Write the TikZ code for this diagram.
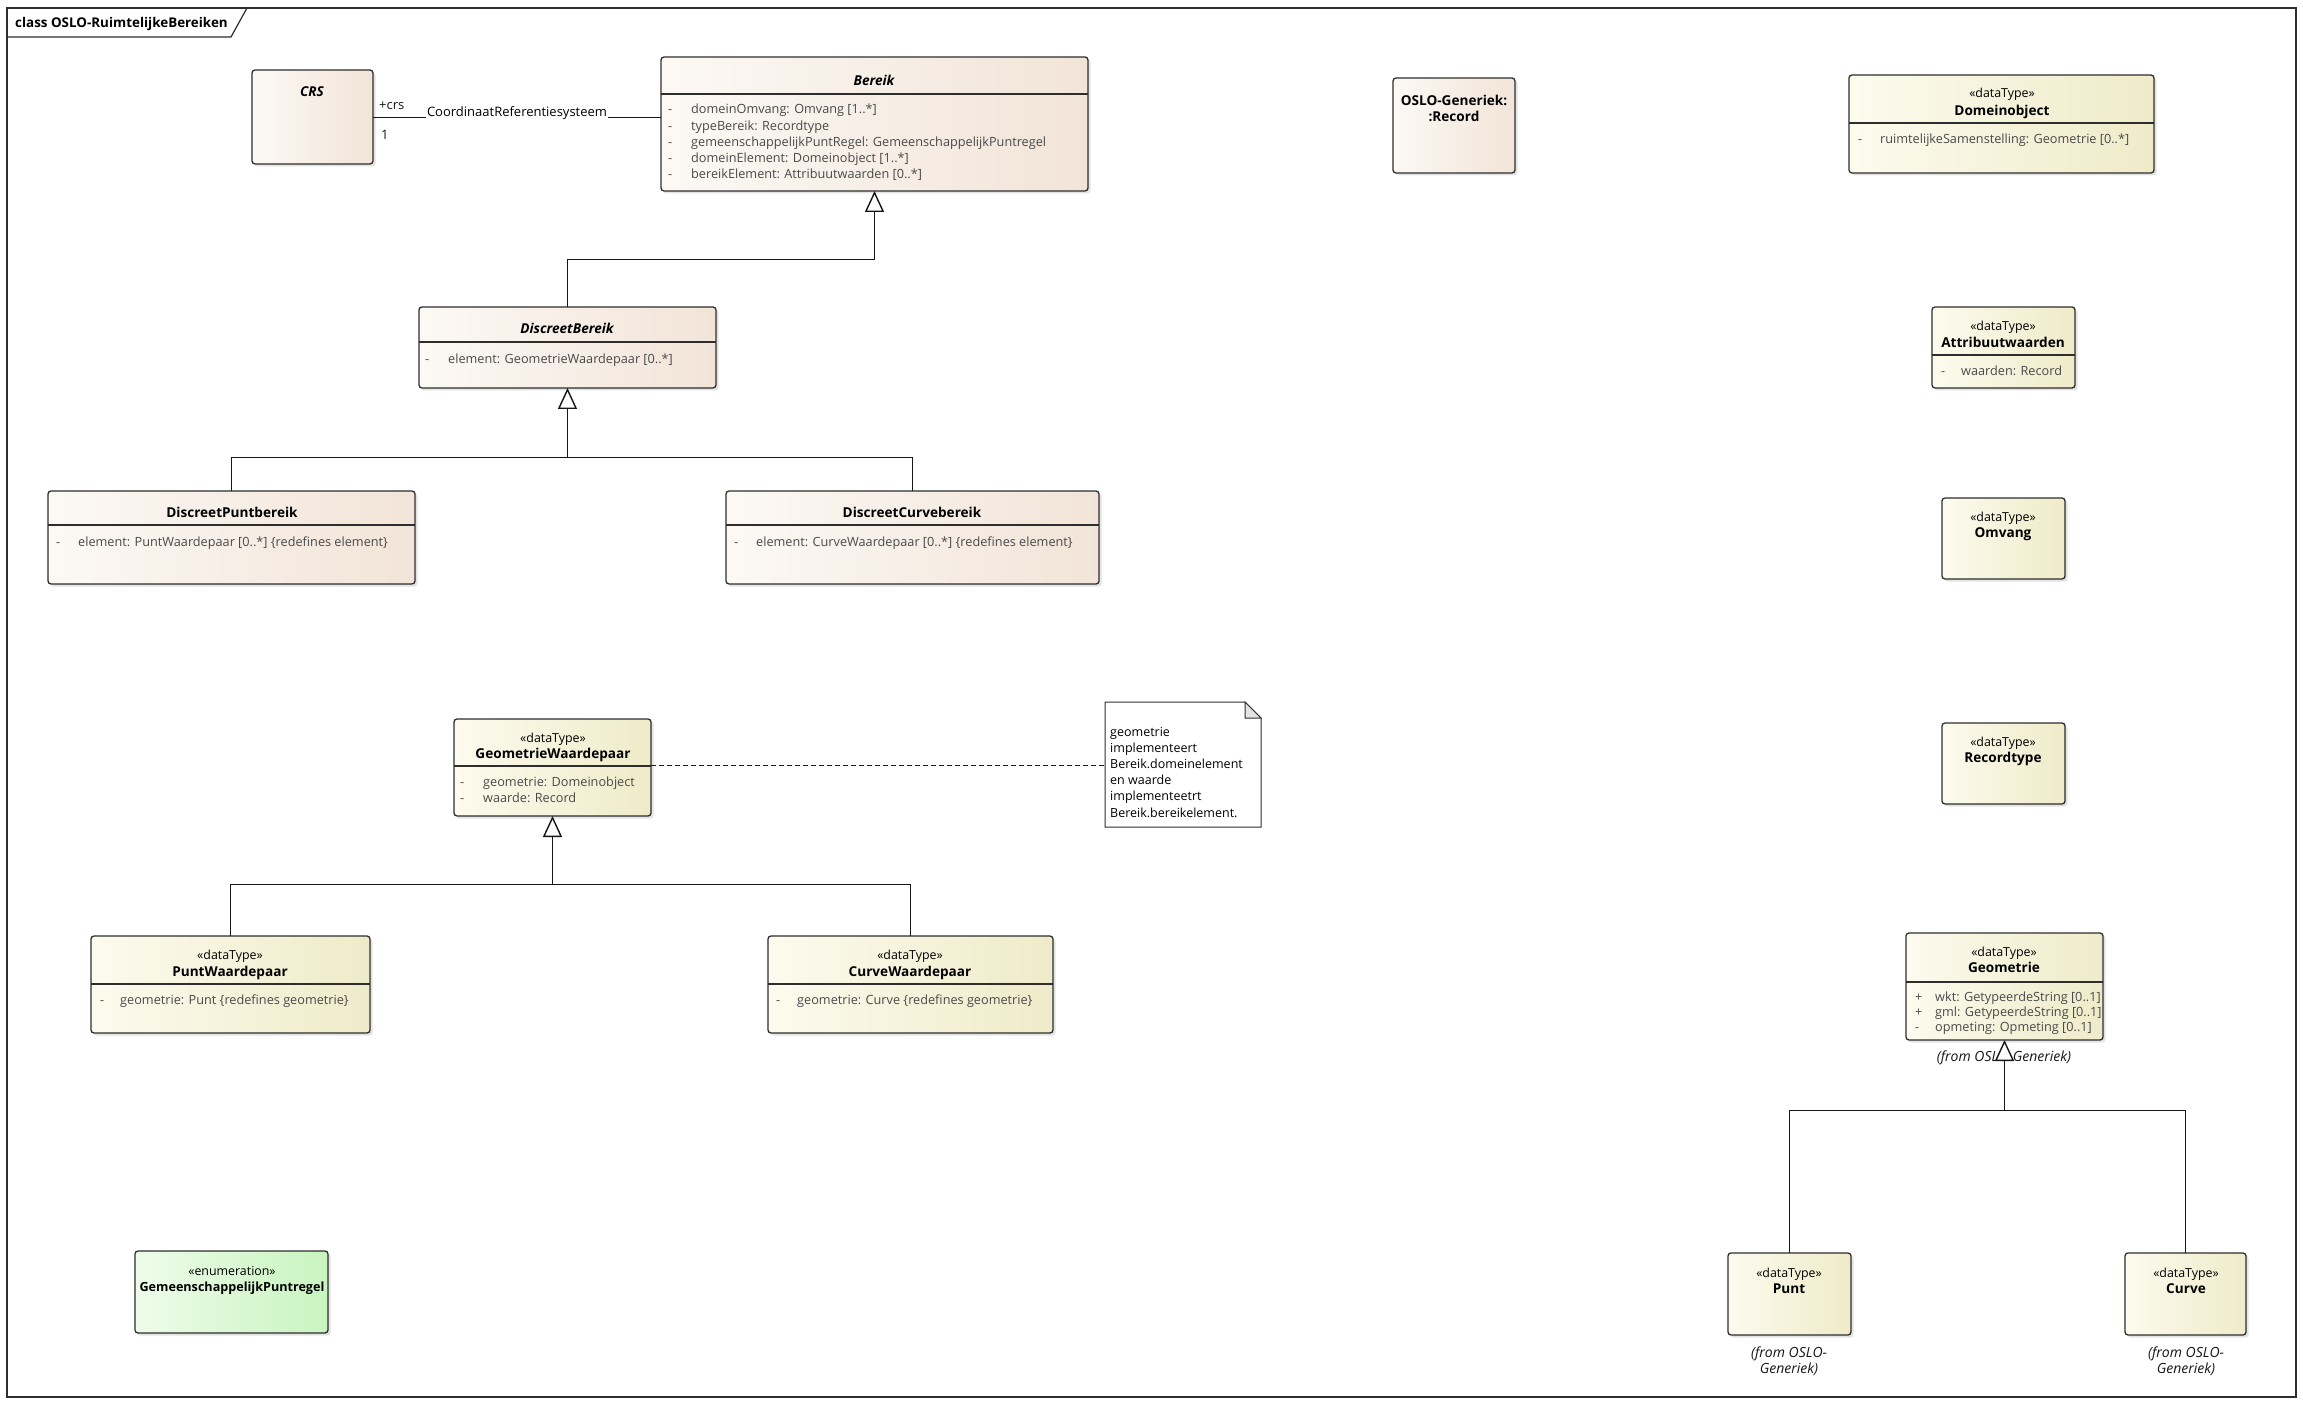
\documentclass[tikz,border=0pt]{standalone}
\usepackage{fontspec}
\setmainfont{Open Sans}
\usetikzlibrary{arrows.meta,shadows}
\definecolor{boxline}{HTML}{2E2E2E}
\definecolor{clsL}{HTML}{FCF9F5}
\definecolor{clsR}{HTML}{F2E4D8}
\definecolor{dtL}{HTML}{FCFBEE}
\definecolor{dtR}{HTML}{EFEBC9}
\definecolor{enL}{HTML}{EEFCEA}
\definecolor{enR}{HTML}{C8F4BF}
\definecolor{attrgrey}{HTML}{4A4A4A}
\definecolor{linecol}{HTML}{161616}
\definecolor{foldgrey}{HTML}{E4E4E4}
\newcommand\umlattr[6]{%
  \node[vistxt] (#1v) at (#2,#4) {#5};
  \node[attrtxt] (#1) at (#3,#4) {#6};}
\begin{document}
\begin{tikzpicture}[x=1pt,y=-1pt,
  box/.style={draw=boxline, line width=1.3pt, rounded corners=3pt, inner sep=0pt, outer sep=0pt, anchor=north west,
    drop shadow={shadow xshift=2.5pt, shadow yshift=-2.5pt, opacity=0.22}},
  cls/.style={box, left color=clsL, right color=clsR},
  dt/.style={box, left color=dtL, right color=dtR},
  en/.style={box, left color=enL, right color=enR},
  txt/.style={inner sep=0pt, yshift=-1.5pt},
  title/.style={txt, font=\bfseries\fontsize{13.6}{15}\selectfont, anchor=mid},
  ititle/.style={txt, font=\bfseries\itshape\fontsize{13.6}{15}\selectfont, anchor=mid},
  stereo/.style={txt, font=\fontsize{12.4}{14}\selectfont, anchor=mid},
  attrtxt/.style={txt, font=\fontsize{12.7}{14}\selectfont, text=attrgrey, anchor=mid west},
  vistxt/.style={txt, font=\fontsize{12.7}{14}\selectfont, text=attrgrey, anchor=mid west},
  divider/.style={draw=boxline, line width=1.3pt},
  gen/.style={draw=linecol, line width=1.4pt, -{Triangle[length=21pt, width=19pt, fill=white]}},
  genline/.style={draw=linecol, line width=1.4pt},
  assoc/.style={draw=linecol, line width=1.4pt},
  assoclabel/.style={font=\fontsize{13}{15}\selectfont, fill=white, inner sep=1pt, anchor=mid, yshift=4pt},
  smalltxt/.style={txt, font=\fontsize{13}{15}\selectfont, anchor=mid west, text=linecol},
  fromlbl/.style={txt, font=\itshape\fontsize{14}{16}\selectfont, anchor=mid, text=linecol},
  notetxt/.style={txt, font=\fontsize{12.5}{14}\selectfont, anchor=mid west, text=black},
  frame/.style={draw=boxline, line width=1.2pt}
]
\useasboundingbox (0,0) rectangle (2303,1404);
\fill[white] (0,0) rectangle (2303,1404);
% frame
\draw[frame] (7,8) rectangle (2296,1397);
\draw[frame] (7,37) -- (231,37) -- (247,8);
\node[txt, font=\bfseries\fontsize{13.4}{15}\selectfont, anchor=mid west] (frametitle) at (15,23) {class OSLO-RuimtelijkeBereiken};

% boxes
\node[cls, minimum width=121pt, minimum height=94pt] (crs) at (252,70) {};
\node[cls, minimum width=427pt, minimum height=134pt] (bereik) at (661,57) {};
\node[cls, minimum width=297pt, minimum height=81pt] (db) at (419,307) {};
\node[cls, minimum width=367pt, minimum height=93pt] (dpb) at (48,491) {};
\node[cls, minimum width=373pt, minimum height=93pt] (dcb) at (726,491) {};
\node[dt, minimum width=197pt, minimum height=97pt] (gwp) at (454,719) {};
\node[dt, minimum width=279pt, minimum height=97pt] (pwp) at (91,936) {};
\node[dt, minimum width=285pt, minimum height=97pt] (cwp) at (768,936) {};
\node[en, minimum width=193pt, minimum height=82pt] (gpr) at (135,1251) {};
\node[cls, minimum width=122pt, minimum height=95pt] (rec) at (1393,78) {};
\node[dt, minimum width=305pt, minimum height=98pt] (dom) at (1849,75) {};
\node[dt, minimum width=143pt, minimum height=81pt] (attrw) at (1932,307) {};
\node[dt, minimum width=123pt, minimum height=81pt] (omv) at (1942,498) {};
\node[dt, minimum width=123pt, minimum height=81pt] (rtp) at (1942,723) {};
\node[dt, minimum width=197pt, minimum height=107pt] (geo) at (1906,933) {};
\node[dt, minimum width=123pt, minimum height=82pt] (punt) at (1728,1253) {};
\node[dt, minimum width=121pt, minimum height=82pt] (curve) at (2125,1253) {};

% note
\node[draw=none, inner sep=0pt, outer sep=0pt, anchor=north west, minimum width=156pt, minimum height=125pt] (note) at (1105,702) {};
\draw[fill=white, draw=boxline, line width=1pt] (note.north west) -- ([xshift=-16pt]note.north east) -- ([yshift=-16pt]note.north east) -- (note.south east) -- (note.south west) -- cycle;
\draw[fill=foldgrey, draw=boxline, line width=1pt] ([xshift=-16pt]note.north east) |- ([yshift=-16pt]note.north east) -- cycle;
\foreach \t/\yy [count=\i] in {geometrie/732, implementeert/748, Bereik.domeinelement/764, en waarde/780, implementeetrt/796, Bereik.bereikelement./813}
  \node[notetxt] (note-l\i) at (1110,\yy) {\t};

% dividers
\draw[divider] (bereik.west |- 0,94) -- (bereik.east |- 0,94);
\draw[divider] (db.west |- 0,342) -- (db.east |- 0,342);
\draw[divider] (dpb.west |- 0,525) -- (dpb.east |- 0,525);
\draw[divider] (dcb.west |- 0,525) -- (dcb.east |- 0,525);
\draw[divider] (gwp.west |- 0,766) -- (gwp.east |- 0,766);
\draw[divider] (pwp.west |- 0,984) -- (pwp.east |- 0,984);
\draw[divider] (cwp.west |- 0,984) -- (cwp.east |- 0,984);
\draw[divider] (dom.west |- 0,123) -- (dom.east |- 0,123);
\draw[divider] (attrw.west |- 0,355) -- (attrw.east |- 0,355);
\draw[divider] (geo.west |- 0,982) -- (geo.east |- 0,982);

% titles
\node[ititle] (crs-t) at (312,92) {CRS};
\node[ititle] (bereik-t) at (874,81) {Bereik};
\node[ititle] (db-t) at (567,329) {DiscreetBereik};
\node[title] (dpb-t) at (232,513) {DiscreetPuntbereik};
\node[title] (dcb-t) at (912,513) {DiscreetCurvebereik};
\node[stereo] (gwp-s) at (553,738) {«dataType»};
\node[title] (gwp-t) at (553,754) {GeometrieWaardepaar};
\node[stereo] (pwp-s) at (230,955) {«dataType»};
\node[title] (pwp-t) at (230,972) {PuntWaardepaar};
\node[stereo] (cwp-s) at (910,955) {«dataType»};
\node[title] (cwp-t) at (910,972) {CurveWaardepaar};
\node[stereo] (gpr-s) at (232,1271) {«enumeration»};
\node[title, font=\bfseries\fontsize{12.6}{15}\selectfont] (gpr-t) at (232,1287) {GemeenschappelijkPuntregel};
\node[title] (rec-t1) at (1454,101) {OSLO-Generiek:};
\node[title] (rec-t2) at (1454,117) {:Record};
\node[stereo] (dom-s) at (2002,93) {«dataType»};
\node[title] (dom-t) at (2002,111) {Domeinobject};
\node[stereo] (attrw-s) at (2003,326) {«dataType»};
\node[title] (attrw-t) at (2003,343) {Attribuutwaarden};
\node[stereo] (omv-s) at (2003,517) {«dataType»};
\node[title] (omv-t) at (2003,533) {Omvang};
\node[stereo] (rtp-s) at (2003,742) {«dataType»};
\node[title] (rtp-t) at (2003,758) {Recordtype};
\node[stereo] (geo-s) at (2004,952) {«dataType»};
\node[title] (geo-t) at (2004,968) {Geometrie};
\node[stereo] (punt-s) at (1789,1273) {«dataType»};
\node[title] (punt-t) at (1789,1289) {Punt};
\node[stereo] (curve-s) at (2186,1273) {«dataType»};
\node[title] (curve-t) at (2186,1289) {Curve};

% attributes
\umlattr{ba1}{668}{691}{109}{-}{domeinOmvang: Omvang [1..*]}
\umlattr{ba2}{668}{691}{126}{-}{typeBereik: Recordtype}
\umlattr{ba3}{668}{691}{142}{-}{gemeenschappelijkPuntRegel: GemeenschappelijkPuntregel}
\umlattr{ba4}{668}{691}{158}{-}{domeinElement: Domeinobject [1..*]}
\umlattr{ba5}{668}{691}{174}{-}{bereikElement: Attribuutwaarden [0..*]}
\umlattr{dba1}{425}{448}{359}{-}{element: GeometrieWaardepaar [0..*]}
\umlattr{dpba1}{56}{78}{542}{-}{element: PuntWaardepaar [0..*] \{redefines element\}}
\umlattr{dcba1}{734}{756}{542}{-}{element: CurveWaardepaar [0..*] \{redefines element\}}
\umlattr{gwpa1}{460}{483}{782}{-}{geometrie: Domeinobject}
\umlattr{gwpa2}{460}{483}{798}{-}{waarde: Record}
\umlattr{pwpa1}{100}{120}{1000}{-}{geometrie: Punt \{redefines geometrie\}}
\umlattr{cwpa1}{776}{797}{1000}{-}{geometrie: Curve \{redefines geometrie\}}
\umlattr{doma1}{1858}{1880}{139}{-}{ruimtelijkeSamenstelling: Geometrie [0..*]}
\umlattr{attra1}{1941}{1961}{371}{-}{waarden: Record}
\umlattr{geoa1}{1915}{1935}{997}{+}{wkt: GetypeerdeString [0..1]}
\umlattr{geoa2}{1915}{1935}{1012}{+}{gml: GetypeerdeString [0..1]}
\umlattr{geoa3}{1915}{1935}{1027}{-}{opmeting: Opmeting [0..1]}

% from labels
\node[fromlbl] (geo-from) at (2004,1057) {(from OSLO-Generiek)};
\node[fromlbl] (punt-from1) at (1789,1353) {(from OSLO-};
\node[fromlbl] (punt-from2) at (1789,1369) {Generiek)};
\node[fromlbl] (curve-from1) at (2186,1353) {(from OSLO-};
\node[fromlbl] (curve-from2) at (2186,1369) {Generiek)};

% association
\draw[assoc] (crs.east |- 0,117.5) -- node[assoclabel] (assoc-l) {CoordinaatReferentiesysteem} (bereik.west |- 0,117.5);
\node[smalltxt] (crs-role) at (379,105) {+crs};
\node[smalltxt] (crs-mult) at (381,135) {1};

% note link
\draw[draw=linecol, line width=1.4pt, dash pattern=on 5pt off 3pt] (gwp.east |- 0,765.5) -- (note.west |- 0,765.5);

% generalizations
\draw[gen] (db.north) -- (db.north |- 0,259.5) -| (bereik.south);
\draw[genline] (dcb.north) |- (db.south |- 0,457.5);
\draw[gen] (dpb.north) |- (db.south |- 0,457.5) -- (db.south);
\draw[genline] (cwp.north) |- (gwp.south |- 0,884.5);
\draw[gen] (pwp.north) |- (gwp.south |- 0,884.5) -- (gwp.south);
\draw[genline] (curve.north) |- (geo.south |- 0,1110.5);
\draw[gen] (punt.north) |- (geo.south |- 0,1110.5) -- (geo.south);
\end{tikzpicture}
\end{document}
